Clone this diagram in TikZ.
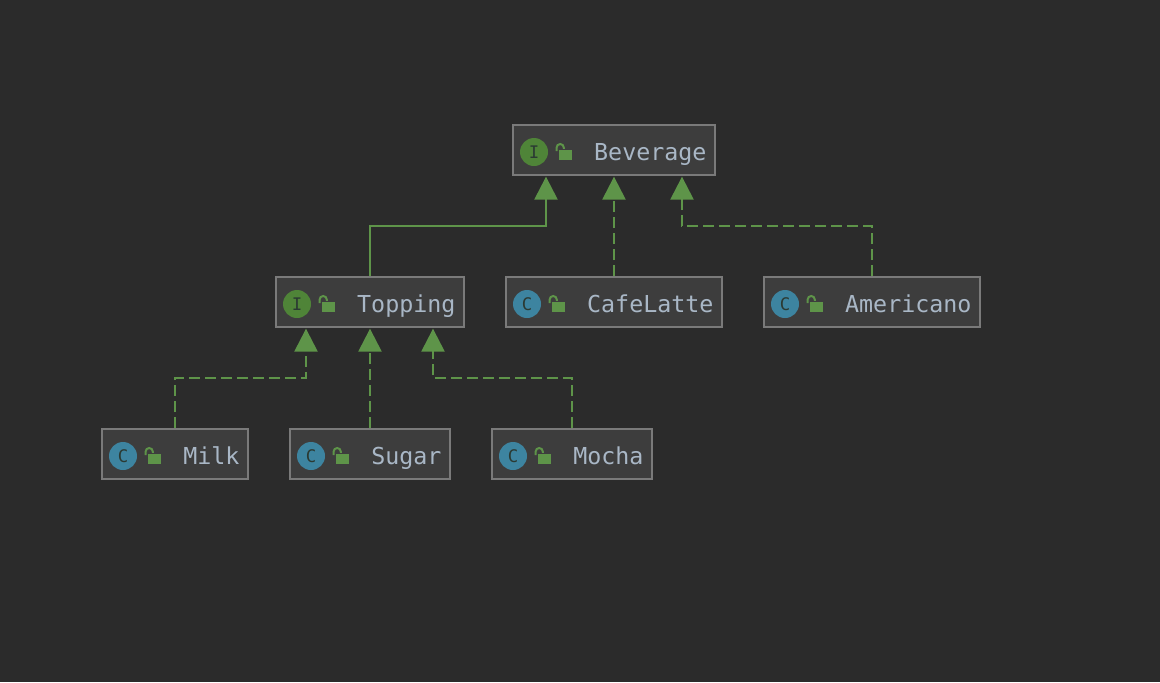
\documentclass[tikz,border=0pt]{standalone}
\usepackage{fontspec}
\setmonofont{DejaVu Sans Mono}
\usetikzlibrary{arrows.meta}
\definecolor{canvas}{HTML}{2B2B2B}
\definecolor{boxfill}{HTML}{3D3D3D}
\definecolor{boxline}{HTML}{7A7A7A}
\definecolor{labeltext}{HTML}{A9B7C6}
\definecolor{edgegreen}{HTML}{5E9449}
\definecolor{ifacegreen}{HTML}{4F8438}
\definecolor{classblue}{HTML}{3D84A0}
\definecolor{icontext}{HTML}{2B3A33}
\tikzset{
    classbox/.style={draw=boxline, fill=boxfill, line width=1.5pt, inner sep=0, minimum height=37.5pt},
    typeicon/.style={circle, inner sep=0, minimum size=21pt, font=\ttfamily\fontsize{13}{13}\selectfont, text=icontext},
    iface/.style={typeicon, fill=ifacegreen},
    concrete/.style={typeicon, fill=classblue},
    lockbody/.style={fill=edgegreen, inner sep=0, minimum width=9.5pt, minimum height=7.5pt},
    classlabel/.style={inner sep=0, text=labeltext, font=\ttfamily\fontsize{17.5}{17.5}\selectfont},
    extends/.style={draw=edgegreen, line width=1.8pt, shorten >=0.5pt,
        -{Triangle[length=17.25pt, width=17.25pt]}},
    realizes/.style={extends, dash pattern=on 8.25pt off 3.75pt}
}
% name, x, y, width, icon style, icon letter, text
\newcommand{\classnode}[7]{
    \node[classbox, minimum width=#4*0.75pt] (#1) at (#2,#3) {};
    \node[#5] (#1-icon) at ([xshift=16.5pt, yshift=-1.5pt]#1.west) {#6};
    \node[lockbody] (#1-lock) at ([xshift=40pt, yshift=-3.75pt]#1.west) {};
    \draw[edgegreen, line width=1.5pt] ([xshift=-1.6pt, yshift=-1pt]#1-lock.north west) -- ++(0,2.6pt)
        arc[start angle=180, end angle=0, radius=2.7pt] -- ++(0,-1pt);
    \node[classlabel, anchor=base east] (#1-label) at ([xshift=-6.9pt, yshift=-7.5pt]#1.east) {#7};
}

\begin{document}
\begin{tikzpicture}[x=0.75pt, y=-0.75pt]
    \fill[canvas] (0,0) rectangle (1160,682);
    \useasboundingbox (0,0) rectangle (1160,682);

    \classnode{beverage}{614}{150}{202}{iface}{I}{Beverage}
    \classnode{topping}{370}{302}{188}{iface}{I}{Topping}
    \classnode{cafelatte}{614}{302}{216}{concrete}{C}{CafeLatte}
    \classnode{americano}{872}{302}{216}{concrete}{C}{Americano}
    \classnode{milk}{175}{454}{146}{concrete}{C}{Milk}
    \classnode{sugar}{370}{454}{160}{concrete}{C}{Sugar}
    \classnode{mocha}{572}{454}{160}{concrete}{C}{Mocha}

    \coordinate (beverage-left) at ([xshift=-51pt]beverage.south);
    \coordinate (beverage-right) at ([xshift=51pt]beverage.south);
    \coordinate (topping-left) at ([xshift=-48pt]topping.south);
    \coordinate (topping-right) at ([xshift=47.25pt]topping.south);

    \draw[extends] (topping.north) |- (546,226) -- (beverage-left);
    \draw[realizes] (cafelatte.north) -- (beverage.south);
    \draw[realizes] (americano.north) |- (682,226) -- (beverage-right);
    \draw[realizes] (milk.north) |- (306,378) -- (topping-left);
    \draw[realizes] (sugar.north) -- (topping.south);
    \draw[realizes] (mocha.north) |- (433,378) -- (topping-right);
\end{tikzpicture}
\end{document}
